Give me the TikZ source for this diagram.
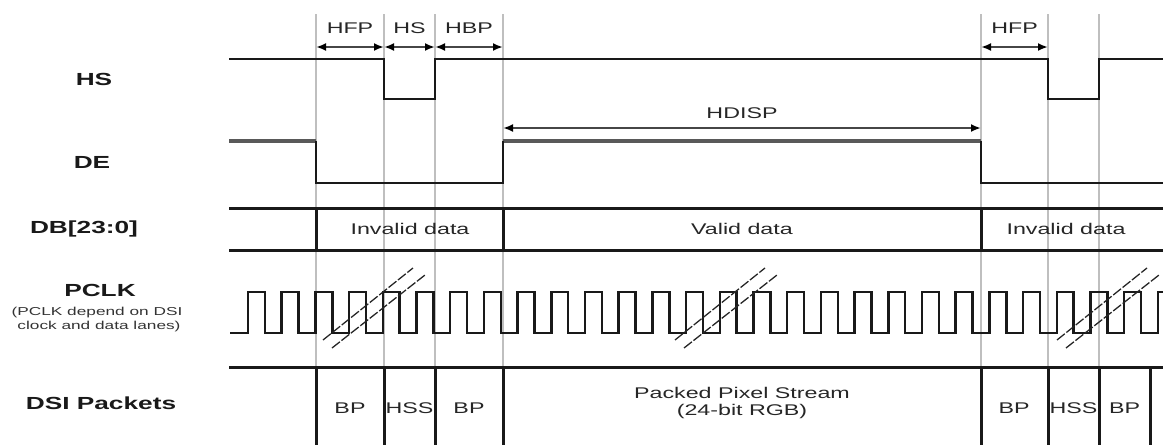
\documentclass[tikz,border=0pt]{standalone}
\usepackage{fontspec}
\setmainfont{Liberation Sans}
\usetikzlibrary{arrows.meta}
\tikzset{
  gridline/.style={line width=1.2pt,gray!50},
  sigline/.style={line width=2.4pt,black!90},
  busline/.style={line width=3pt,black!90},
  highline/.style={line width=4.5pt,black!65},
  dimarrow/.style={line width=2pt,gray!55!black,{Latex[length=10pt,width=8pt,color=black]}-{Latex[length=10pt,width=8pt,color=black]}},
  brkline/.style={line width=1.3pt,black!85,dash pattern=on 10pt off 2pt},
  lbltext/.style={font=\fontsize{15.5}{17}\selectfont,text=black!85,xscale=1.5,inner sep=0pt},
  signame/.style={font=\fontsize{17.5}{19}\selectfont\bfseries,text=black!90,xscale=1.5,inner sep=0pt},
  subname/.style={font=\fontsize{11.5}{13}\selectfont,text=black!80,xscale=1.5,inner sep=0pt}
}
\newcommand{\clkbreak}[1]{%
  \draw[brkline] (#1-45,340) -- (#1+45,268);
  \draw[brkline] (#1-36,348) -- (#1+57,275);
}
\begin{document}
\begin{tikzpicture}[x=1pt,y=-1pt]
\useasboundingbox (0,0) rectangle (1163,445);
\clip (0,0) rectangle (1163,445);
% timing marks
\foreach \x in {316,384,435,503,981,1048,1099}
  \draw[gridline] (\x,14) -- (\x,445);

% signal names
\node[signame] (hs) at (94,79) {HS};
\node[signame] (de) at (92,162) {DE};
\node[signame] (db) at (84,229) {DB[23:0]};
\node[signame] (pclk) at (100,290) {PCLK};
\node[subname] (pclka) at (97,313) {(PCLK depend on DSI};
\node[subname] (pclkb) at (99,327) {clock and data lanes)};
\node[signame] (dsi) at (101,403) {DSI Packets};

% timing widths
\foreach \a/\b/\t/\n in {316/384/HFP/hfpa,384/435/HS/hsw,435/503/HBP/hbp,981/1048/HFP/hfpb} {
  \coordinate (\n-l) at (\a,47);
  \coordinate (\n-r) at (\b,47);
  \draw[dimarrow] (\n-l) -- (\n-r);
  \node[lbltext] (\n) at ({(\a+\b)/2},28) {\t};
}
\coordinate (hdisp-l) at (503,128);
\coordinate (hdisp-r) at (981,128);
\draw[dimarrow] (hdisp-l) -- (hdisp-r);
\node[lbltext] (hdisp) at (742,113) {HDISP};

% HS
\draw[sigline] (229,59) -- (384,59) -- (384,99) -- (435,99) -- (435,59) -- (1048,59)
  -- (1048,99) -- (1099,99) -- (1099,59) -- (1163,59);

% DE
\draw[highline] (229,141) -- (316,141);
\draw[highline] (503,141) -- (981,141);
\draw[sigline] (316,141) -- (316,183) -- (503,183) -- (503,141);
\draw[sigline] (981,141) -- (981,183) -- (1163,183);

% DB[23:0]
\draw[busline] (229,208) -- (1163,208);
\draw[busline] (229,250) -- (1163,250);
\foreach \x in {316,503,981}
  \draw[busline] (\x,208) -- (\x,250);
\node[lbltext] (inv1) at (410,229) {Invalid data};
\node[lbltext] (val) at (742,229) {Valid data};
\node[lbltext] (inv2) at (1066,229) {Invalid data};

% PCLK
\draw[sigline,line width=2.5pt] (230,333) -- (248,333)
  foreach \k in {0,...,27} { -- ++(0,-41) -- ++(16.85,0) -- ++(0,41) -- ++(16.85,0) };
\clkbreak{368}
\clkbreak{720}
\clkbreak{1102}

% DSI packets
\draw[busline] (229,367) -- (1163,367);
\foreach \x in {316,384,435,503,981,1048,1099,1150}
  \draw[busline] (\x,367) -- (\x,445);
\node[lbltext] (bp1) at (350,408) {BP};
\node[lbltext] (hss1) at (409.5,408) {HSS};
\node[lbltext] (bp2) at (469,408) {BP};
\node[lbltext,align=center] (pps) at (742,403) {Packed Pixel Stream\\(24-bit RGB)};
\node[lbltext] (bp3) at (1014,408) {BP};
\node[lbltext] (hss2) at (1073.5,408) {HSS};
\node[lbltext] (bp4) at (1124.5,408) {BP};
\end{tikzpicture}
\end{document}
